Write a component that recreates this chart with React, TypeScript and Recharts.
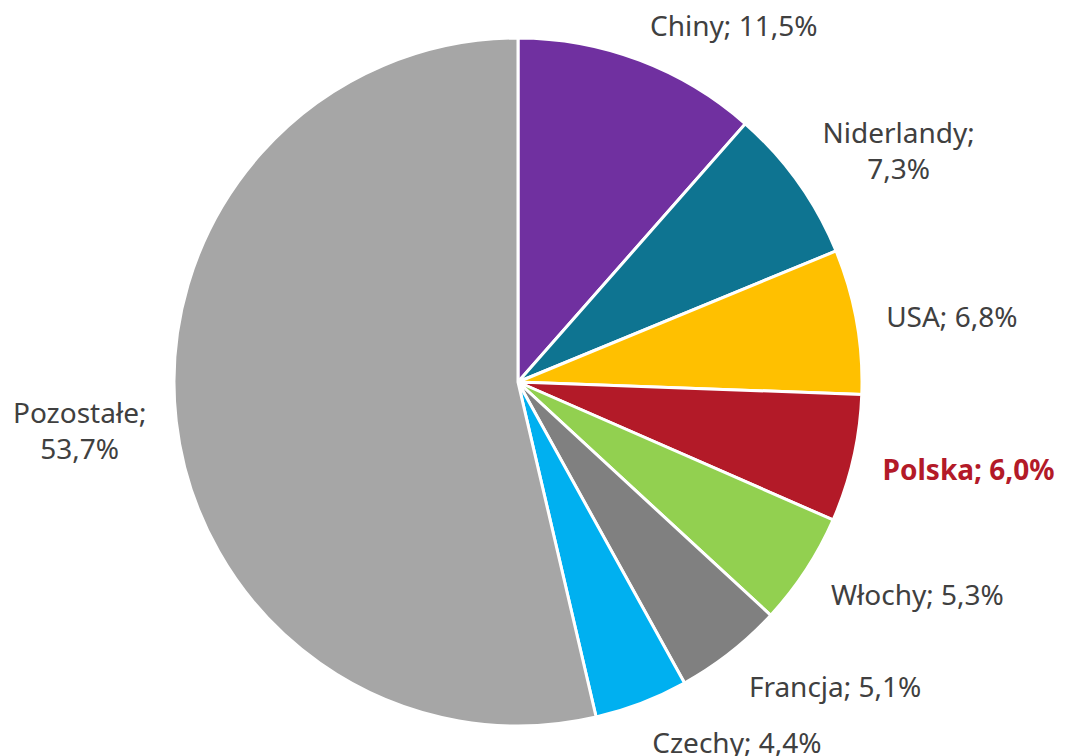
import React from "react"
import { Cell, Pie, PieChart } from "recharts"

const countries = ["Chiny", "Niderlandy", "USA", "Polska", "Włochy", "Francja", "Czechy", "Pozostałe"]
const shares = [11.5, 7.3, 6.8, 6.0, 5.3, 5.1, 4.4, 53.7]
const colors = ["#7030A0", "#0E7491", "#FFC000", "#B31A28", "#92D050", "#808080", "#00B0F0", "#A6A6A6"]
// labels that Excel wrapped onto two lines
const wrapped = ["Niderlandy", "Pozostałe"]
const highlight = "Polska"

const data = countries.map((name, i) => ({ name, value: shares[i] }))

const FONT = '"Noto Sans", sans-serif'
const FONT_SIZE = 28
const LINE_H = 36
const RAD = Math.PI / 180

let ctx: CanvasRenderingContext2D | null = null
const textWidth = (t: string, bold: boolean) => {
    if (!ctx) ctx = document.createElement("canvas").getContext("2d")
    if (!ctx) return t.length * 13
    ctx.font = `${bold ? "bold " : ""}${FONT_SIZE}px ${FONT}`
    return ctx.measureText(t).width
}

const renderLabel = (props: any) => {
    const { cx, cy, midAngle, outerRadius, index } = props
    const name = countries[index]
    const pct = shares[index].toFixed(1).replace(".", ",") + "%"
    const lines = wrapped.includes(name) ? [name + ";", pct] : [name + "; " + pct]
    const bold = name === highlight
    const w = Math.max(...lines.map((l) => textWidth(l, bold)))
    const h = lines.length * LINE_H
    const cos = Math.cos(-midAngle * RAD)
    const sin = Math.sin(-midAngle * RAD)
    const px = cx + (outerRadius + 30) * cos
    const py = cy + (outerRadius + 22) * sin + 2
    const bx = px + Math.sign(cos) * w / 2
    const by = py + sin * h / 2
    const top = by - h / 2
    return (
        <text
            key={"lbl-" + index}
            x={bx}
            y={top}
            textAnchor="middle"
            fontFamily={FONT}
            fontSize={FONT_SIZE}
            fontWeight={bold ? "bold" : "normal"}
            fill={bold ? "#B31A28" : "#404040"}
        >
            {lines.map((l, i) => (
                <tspan key={i} x={bx} y={top + LINE_H * i + LINE_H / 2} dominantBaseline="central">
                    {l}
                </tspan>
            ))}
        </text>
    )
}

const App = () => {
    return (
        <PieChart width={1052} height={748} margin={{ top: 0, right: 0, bottom: 0, left: 0 }}>
            <Pie
                data={data}
                dataKey="value"
                nameKey="name"
                cx={510}
                cy={374}
                outerRadius={344}
                startAngle={90}
                endAngle={-270}
                stroke="#FFFFFF"
                strokeWidth={3}
                label={renderLabel}
                labelLine={false}
                isAnimationActive={false}
            >
                {data.map((d, i) => (
                    <Cell key={d.name} fill={colors[i]} />
                ))}
            </Pie>
        </PieChart>
    )
}

export default App
